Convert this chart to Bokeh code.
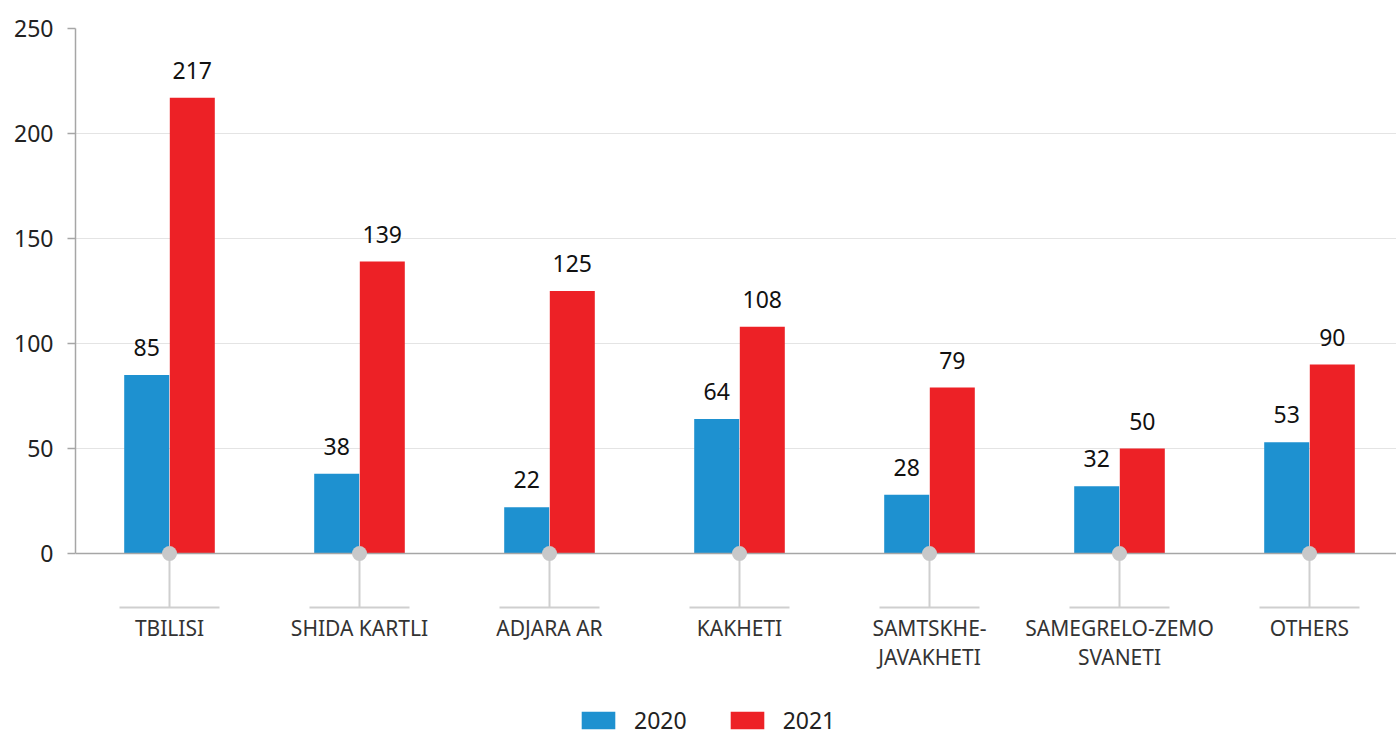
from bokeh.plotting import figure
from bokeh.models import ColumnDataSource, Range1d, FixedTicker, Span, LabelSet, Legend, LegendItem
from bokeh.embed import file_html
from bokeh.resources import INLINE
from bokeh.core.properties import value

# ---- data ----
categories = ["TBILISI", "SHIDA KARTLI", "ADJARA AR", "KAKHETI",
              "SAMTSKHE-\nJAVAKHETI", "SAMEGRELO-ZEMO\nSVANETI", "OTHERS"]
values_2020 = [85, 38, 22, 64, 28, 32, 53]
values_2021 = [217, 139, 125, 108, 79, 50, 90]
series_labels = ["2020", "2021"]
y_ticks = [0, 50, 100, 150, 200, 250]

# ---- layout constants ----
W, H = 1396, 737
BORDER_LEFT, BORDER_TOP = 75, 28
PX_PER_CAT = 190.0
PX_PER_UNIT = 2.1
FRAME_W = W - BORDER_LEFT
FRAME_H = H - BORDER_TOP
x_start = -94.0 / PX_PER_CAT
y_top = 250.0
y_bottom = y_top - FRAME_H / PX_PER_UNIT

BAR_W = 45.0 / PX_PER_CAT
OFF = 22.8 / PX_PER_CAT

FONT = value("Noto Sans")
BLUE = "#1e91d0"
RED = "#ed2126"

idx = list(range(len(categories)))
src = ColumnDataSource(dict(
    x=idx,
    x20=[i - OFF for i in idx],
    x21=[i + OFF for i in idx],
    v20=values_2020,
    v21=values_2021,
    t20=[str(v) for v in values_2020],
    t21=[str(v) for v in values_2021],
    cat=categories,
    zero=[0] * len(idx),
    stem=[-54.0 / PX_PER_UNIT] * len(idx),
    hl0=[i - 50.0 / PX_PER_CAT for i in idx],
    hl1=[i + 50.0 / PX_PER_CAT for i in idx],
    laby=[-60.0 / PX_PER_UNIT] * len(idx),
))

p = figure(width=W, height=H, output_backend="svg", toolbar_location=None,
           x_range=Range1d(x_start, x_start + FRAME_W / PX_PER_CAT),
           y_range=Range1d(y_bottom, y_top),
           x_axis_location=None, y_axis_location="left",
           min_border_left=BORDER_LEFT, min_border_right=0,
           min_border_top=BORDER_TOP, min_border_bottom=0)
p.outline_line_color = None
p.background_fill_color = "white"
p.border_fill_color = "white"

p.xgrid.grid_line_color = None
p.ygrid.ticker = FixedTicker(ticks=y_ticks)
p.ygrid.grid_line_color = "#e4e4e4"
p.ygrid.grid_line_width = 1

ax = p.yaxis[0]
ax.ticker = FixedTicker(ticks=y_ticks)
ax.bounds = (0, 250)
ax.axis_line_color = "#a6a6a6"
ax.axis_line_width = 1.5
ax.major_tick_line_color = "#a6a6a6"
ax.major_tick_line_width = 1.5
ax.major_tick_out = 8
ax.major_tick_in = 0
ax.minor_tick_line_color = None
ax.major_label_standoff = 14
ax.major_label_text_font = "Noto Sans"
ax.major_label_text_font_size = "23px"
ax.major_label_text_color = "#222222"

r20 = p.vbar(x="x20", top="v20", bottom=0, width=BAR_W, source=src,
             fill_color=BLUE, line_color=None)
r21 = p.vbar(x="x21", top="v21", bottom=0, width=BAR_W, source=src,
             fill_color=RED, line_color=None)

p.add_layout(Span(location=0, dimension="width", line_color="#a6a6a6", line_width=1.5))

# category stems and labels
p.segment(x0="x", y0="zero", x1="x", y1="stem", source=src,
          line_color="#cfcfcf", line_width=2)
p.segment(x0="hl0", y0="stem", x1="hl1", y1="stem", source=src,
          line_color="#cfcfcf", line_width=2)
dots = p.scatter(x="x", y="zero", source=src, size=15, fill_color="#c8c8c9",
                 line_color=None)
dots.level = "overlay"

p.text(x="x", y="laby", text="cat", source=src, text_align="center",
       text_baseline="top", text_font=FONT, text_font_size="21px",
       text_color="#333333", text_line_height=1.07)

for xf, yf, tf in (("x20", "v20", "t20"), ("x21", "v21", "t21")):
    p.add_layout(LabelSet(x=xf, y=yf, text=tf, source=src, y_offset=19,
                          text_align="center", text_baseline="alphabetic",
                          text_font=FONT, text_font_size="23px",
                          text_color="#111111"))

legend = Legend(items=[LegendItem(label=series_labels[0], renderers=[r20]),
                       LegendItem(label=series_labels[1], renderers=[r21])],
                location=(502, 1), orientation="horizontal",
                glyph_width=42, glyph_height=22, label_height=22,
                label_standoff=15, spacing=39, padding=0, margin=0,
                border_line_color=None, background_fill_alpha=0,
                label_text_font="Noto Sans", label_text_font_size="23px",
                label_text_color="#222222")
p.add_layout(legend)

open("out.html", "w").write(file_html(p, INLINE))
